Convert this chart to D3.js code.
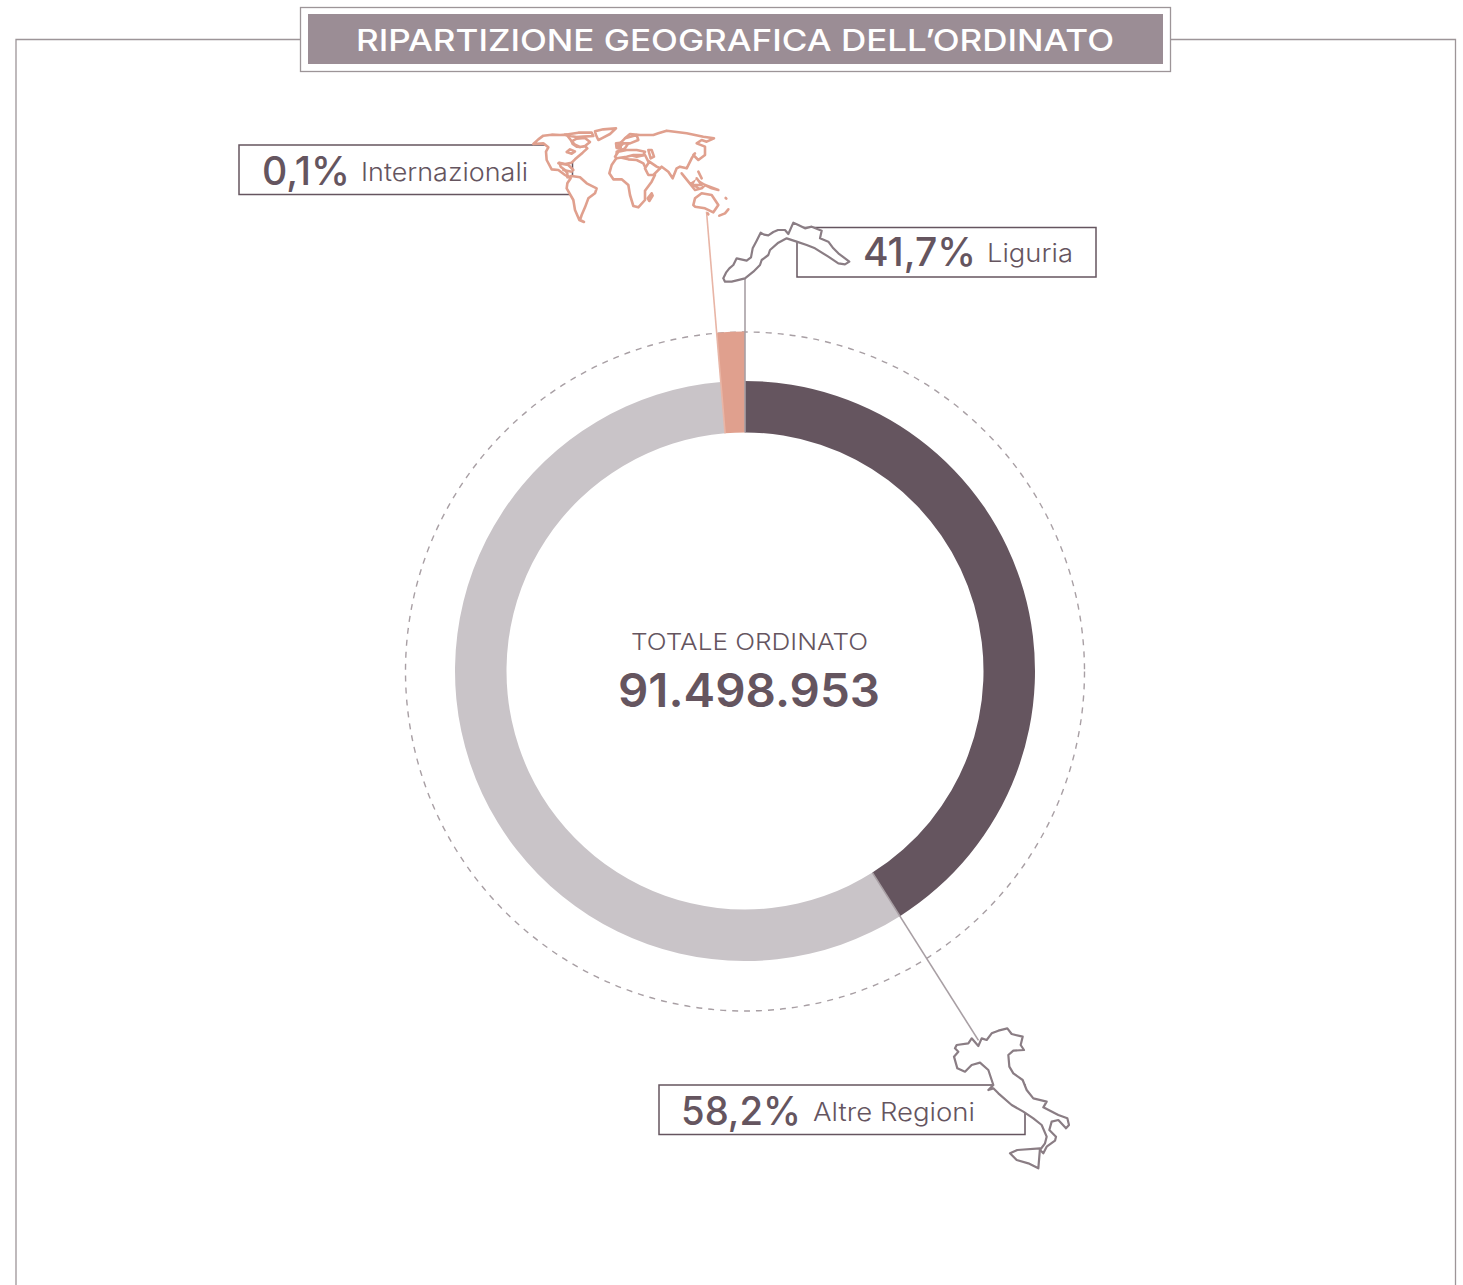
<!DOCTYPE html>
<html>
<head>
<meta charset="utf-8">
<script src="https://cdn.jsdelivr.net/npm/d3@7"></script>
<style>
  html, body { margin: 0; padding: 0; background: #fff; overflow: hidden; }
  text { font-family: Inter, "Open Sans", sans-serif; }
</style>
</head>
<body>
<div id="graphContainer"></div>
<script>
const titleText = "RIPARTIZIONE GEOGRAFICA DELL’ORDINATO";
const centerLabel = "TOTALE ORDINATO";
const centerValue = "91.498.953";

const regions = ["Liguria", "Altre Regioni", "Internazionali"];
const percentLabels = ["41,7%", "58,2%", "0,1%"];
// share of the ring as drawn in the picture (the small slice is exaggerated there)
const drawnShares = [41.03, 57.64, 1.33];

// outlines, in 3x crop units
const liguriaOutline = [[[100,205],[108,188],[118,175],[130,165],[140,145],[170,152],[183,142],[188,115],[200,92],[212,68],[222,74],[235,76],[250,66],[264,60],[285,60],[295,72],[310,38],[325,45],[345,55],[365,50],[395,62],[390,85],[415,95],[430,115],[445,130],[478,155],[465,163],[445,160],[415,140],[375,115],[350,105],[320,95],[290,85],[265,98],[240,120],[235,135],[215,150],[210,165],[190,185],[165,205],[125,215],[105,215],[100,205]]];
const italyOutline = [
  [[75,115],[80,105],[115,100],[125,85],[145,108],[155,85],[170,90],[185,70],[205,62],[232,55],[245,72],[278,80],[272,105],[282,120],[250,122],[235,135],[238,170],[250,190],[278,210],[290,240],[310,265],[350,275],[340,292],[385,315],[412,325],[417,345],[408,355],[385,330],[365,335],[358,360],[378,380],[375,392],[350,410],[340,430],[330,420],[345,400],[350,380],[335,345],[310,325],[280,305],[245,285],[205,250],[190,235],[175,240],[190,225],[175,180],[150,158],[125,165],[105,185],[82,175],[72,140],[85,125],[75,115]],
  [[240,430],[262,420],[330,415],[325,475],[295,460],[260,450],[240,430]]
];
const worldOutline = [
  [[10,72],[25,58],[40,47],[65,44],[90,45],[110,44],[125,64],[128,72],[140,80],[150,81],[165,78],[172,85],[158,98],[150,105],[135,118],[125,128],[105,132],[88,128],[92,140],[105,150],[112,160],[112,172],[125,168],[150,172],[170,190],[200,205],[195,220],[175,235],[165,262],[155,285],[150,300],[162,306],[148,300],[135,270],[130,240],[110,205],[112,190],[122,175],[105,165],[85,150],[65,148],[50,120],[48,95],[55,82],[40,70],[10,72]],
  [[195,34],[220,28],[258,25],[240,42],[215,55],[205,60],[198,45],[195,34]],
  [[105,44],[125,41],[145,38],[185,38],[190,48],[160,50],[140,51],[120,48],[105,44]],
  [[125,64],[140,56],[165,54],[180,66],[165,78],[150,81],[135,74],[125,64]],
  [[110,96],[120,88],[135,94],[125,101],[110,96]],
  [[85,130],[115,135],[130,150]],
  [[100,150],[125,155]],
  [[262,110],[245,135],[238,160],[250,178],[275,178],[295,195],[300,225],[310,258],[325,262],[345,240],[345,212],[365,185],[375,165],[355,160],[340,130],[320,120],[295,118],[262,110]],
  [[285,55],[300,42],[330,45],[370,45],[385,40],[410,32],[470,40],[520,50],[552,55],[530,65],[515,60],[500,70],[525,80],[525,105],[505,120],[490,105],[495,100],[485,115],[470,145],[450,140],[440,145],[428,175],[415,155],[395,140],[390,145],[375,140],[355,125],[345,105],[320,110],[300,105],[275,105],[260,110],[260,95],[285,85],[295,70],[285,55]],
  [[258,70],[272,68],[272,85],[260,84],[258,70]],
  [[260,80],[285,55],[320,45],[325,60],[300,70],[280,70],[265,85],[260,80]],
  [[255,110],[265,95],[290,90],[320,90],[345,95],[340,105],[310,105],[290,110],[260,115],[255,110]],
  [[355,90],[365,90],[372,110],[362,115],[355,90]],
  [[358,125],[380,140],[390,145],[370,165],[355,165],[345,145],[358,125]],
  [[455,160],[475,185],[495,210],[515,205],[525,195],[500,180],[485,190],[505,205]],
  [[500,175],[515,195],[490,195]],
  [[505,155],[515,175]],
  [[525,195],[565,210],[545,205],[525,195]],
  [[490,255],[495,235],[515,220],[545,225],[565,255],[550,277],[525,265],[495,260],[490,255]],
  [[365,220],[368,227],[358,243],[353,235],[365,220]],
  [[568,287],[585,280],[595,268]],
  [[587,234],[589,236]],
  [[533,280],[535,283]]
];

const dark = "#65555f";
const light = "#c9c4c8";
const pink = "#e0a08e";
const titleFill = "#9b8d95";
const frameGrey = "#9d9598";

const svg = d3
  .select("#graphContainer")
  .append("svg")
  .attr("width", 1463)
  .attr("height", 1285)
  .style("display", "block");

// frame, open at the bottom
svg
  .append("path")
  .attr("d", "M16,1285V39.5H1455.5V1285")
  .attr("fill", "none")
  .attr("stroke", frameGrey)
  .attr("stroke-width", 1.3);

svg
  .append("rect")
  .attr("x", 300.5)
  .attr("y", 7.5)
  .attr("width", 870)
  .attr("height", 64)
  .attr("fill", "#fff")
  .attr("stroke", frameGrey)
  .attr("stroke-width", 1.3);

svg
  .append("rect")
  .attr("x", 308)
  .attr("y", 14)
  .attr("width", 855)
  .attr("height", 50)
  .attr("fill", titleFill);

svg
  .append("text")
  .attr("x", 356)
  .attr("y", 51)
  .attr("font-size", 30)
  .attr("font-weight", 500)
  .attr("fill", "#fff")
  .attr("textLength", 758)
  .attr("lengthAdjust", "spacingAndGlyphs")
  .text(titleText);

// donut
const cx = 745;
const cy = 671;
const innerRadius = 238.5;
const outerRadius = 290;
const dashedRadius = 339.5;

const donut = svg.append("g").attr("transform", `translate(${cx},${cy})`);

const pie = d3.pie().sort(null).value((d) => d);
const slices = pie(drawnShares);
const arc = d3.arc().innerRadius(innerRadius);
const sliceColors = [dark, light, pink];

donut
  .append("circle")
  .attr("cy", 0.5)
  .attr("r", dashedRadius)
  .attr("fill", "none")
  .attr("stroke", "#a89fa4")
  .attr("stroke-width", 1.4)
  .attr("stroke-dasharray", "6 6");

donut
  .selectAll("path.slice")
  .data(slices)
  .enter()
  .append("path")
  .attr("class", "slice")
  .attr("fill", (d, i) => sliceColors[i])
  .attr("d", (d, i) =>
    arc.outerRadius(i === 2 ? dashedRadius : outerRadius)(d)
  );

// leader lines, running out radially from the inner edge of each slice
const leaderAngles = [slices[0].startAngle, slices[0].endAngle, slices[2].startAngle];
const leaderEnds = [392, 437, 461];
const leaderColors = ["#a89fa4", "#a89fa4", "#e8b5a6"];

donut
  .selectAll("line.leader")
  .data(leaderAngles)
  .enter()
  .append("line")
  .attr("class", "leader")
  .attr("x1", (d) => d3.pointRadial(d, innerRadius)[0])
  .attr("y1", (d) => d3.pointRadial(d, innerRadius)[1])
  .attr("x2", (d, i) => d3.pointRadial(d, leaderEnds[i])[0])
  .attr("y2", (d, i) => d3.pointRadial(d, leaderEnds[i])[1])
  .attr("stroke", (d, i) => leaderColors[i])
  .attr("stroke-width", 1.6);

// centre text
svg
  .append("text")
  .attr("x", 631)
  .attr("y", 650)
  .attr("font-size", 23)
  .attr("font-weight", 300)
  .attr("fill", dark)
  .attr("textLength", 237)
  .attr("lengthAdjust", "spacingAndGlyphs")
  .text(centerLabel);

svg
  .append("text")
  .attr("x", 618)
  .attr("y", 707)
  .attr("font-size", 47)
  .attr("font-weight", 600)
  .attr("fill", dark)
  .attr("textLength", 262)
  .attr("lengthAdjust", "spacingAndGlyphs")
  .text(centerValue);

// label boxes, in the same order as regions
const boxes = [
  { x: 797, y: 227.5, w: 299, h: 49.5, px: 863, pw: 113, nx: 987, nw: 86, by: 266 },
  { x: 659, y: 1085, w: 366, h: 49.5, px: 681, pw: 120, nx: 813, nw: 162, by: 1125 },
  { x: 239, y: 145, w: 333.5, h: 49.5, px: 262, pw: 88, nx: 361, nw: 167, by: 185 },
];

const labels = svg
  .selectAll("g.label")
  .data(regions)
  .enter()
  .append("g")
  .attr("class", "label");

labels
  .append("rect")
  .attr("x", (d, i) => boxes[i].x)
  .attr("y", (d, i) => boxes[i].y)
  .attr("width", (d, i) => boxes[i].w)
  .attr("height", (d, i) => boxes[i].h)
  .attr("fill", "#fff")
  .attr("stroke", dark)
  .attr("stroke-width", 1.5);

labels
  .append("text")
  .attr("x", (d, i) => boxes[i].px)
  .attr("y", (d, i) => boxes[i].by)
  .attr("font-size", 39)
  .attr("font-weight", 500)
  .attr("fill", dark)
  .attr("textLength", (d, i) => boxes[i].pw)
  .attr("lengthAdjust", "spacingAndGlyphs")
  .text((d, i) => percentLabels[i]);

labels
  .append("text")
  .attr("x", (d, i) => boxes[i].nx)
  .attr("y", (d, i) => boxes[i].by - 4)
  .attr("font-size", 25)
  .attr("font-weight", 300)
  .attr("fill", dark)
  .attr("textLength", (d, i) => boxes[i].nw)
  .attr("lengthAdjust", "spacingAndGlyphs")
  .text((d) => d);

// map outlines, white filled so they sit over the boxes
const outlineLine = d3.line();

function drawOutline(shapes, originX, originY, color, width) {
  svg
    .append("g")
    .attr("transform", `translate(${originX},${originY}) scale(${1 / 3})`)
    .selectAll("path")
    .data(shapes)
    .enter()
    .append("path")
    .attr("d", outlineLine)
    .attr("fill", "#fff")
    .attr("stroke", color)
    .attr("stroke-width", width * 3)
    .attr("stroke-linejoin", "round")
    .attr("stroke-linecap", "round");
}

drawOutline(liguriaOutline, 690, 210, "#8a7d84", 2.2);
drawOutline(italyOutline, 930, 1010, "#8a7d84", 2.2);
drawOutline(worldOutline, 530, 120, pink, 2.6);
</script>
</body>
</html>
